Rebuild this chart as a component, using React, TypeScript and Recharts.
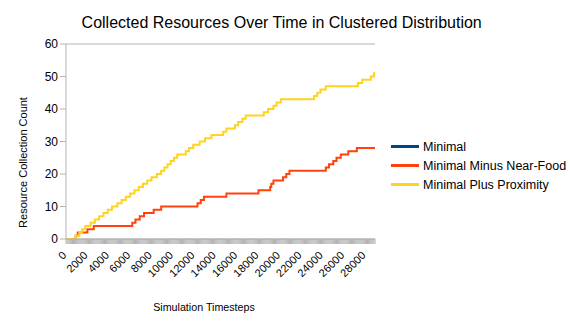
import React from 'react';
import { LineChart, Line, XAxis, YAxis, CartesianGrid } from 'recharts';

const TITLE = 'Collected Resources Over Time in Clustered Distribution';
const X_LABEL = 'Simulation Timesteps';
const Y_LABEL = 'Resource Collection Count';

const SERIES_NAMES = ['Minimal', 'Minimal Minus Near-Food', 'Minimal Plus Proximity'];
const SERIES_COLORS = ['#004586', '#ff420e', '#ffd320'];

const X_TICK_LABELS = [0, 2000, 4000, 6000, 8000, 10000, 12000, 14000, 16000, 18000, 20000, 22000, 24000, 26000, 28000];
const Y_TICKS = [0, 10, 20, 30, 40, 50, 60];
const X_END = 28900;
const X_MINOR_STEP = 100;

// Timesteps at which each series' collected count increases by one
const MINIMAL_STEPS: number[] = [];
const NEAR_FOOD_STEPS = [
  900, 1100, 2000, 2600, 6200, 6500, 6900, 7300, 8200, 8900,
  12300, 12600, 12900, 15000, 18000, 19100, 19200, 19400, 20300, 20600,
  20900, 24300, 24600, 25000, 25300, 25700, 26400, 27200,
];
const PROXIMITY_STEPS = [
  900, 1250, 1500, 1800, 2300, 2700, 3100, 3500, 3900, 4300,
  4800, 5200, 5600, 6000, 6400, 6800, 7200, 7600, 8000, 8500,
  8900, 9200, 9500, 9800, 10100, 10400, 11200, 11500, 11900, 12500,
  13000, 13600, 14700, 15000, 15800, 16100, 16500, 16800, 18500, 18900,
  19400, 19700, 20100, 23200, 23500, 23800, 24300, 27300, 27700, 28500,
  28800,
];

const toSeries = (steps: number[]) =>
  steps.length === 0
    ? []
    : [{ t: 0, v: 0 }, ...steps.map((t, i) => ({ t, v: i + 1 })), { t: X_END, v: steps.length }];

const SERIES_DATA = [toSeries(MINIMAL_STEPS), toSeries(NEAR_FOOD_STEPS), toSeries(PROXIMITY_STEPS)];

const X_MINOR_TICKS = Array.from({ length: Math.floor(X_END / X_MINOR_STEP) + 1 }, (_, i) => i * X_MINOR_STEP);

const FONT = '"Liberation Sans", Arial, sans-serif';
const GRID = '#b3b3b3';

const XTick = (props: any) => {
  const { x, y, payload } = props;
  if (!X_TICK_LABELS.includes(payload.value)) return <g />;
  const ex = x + 1;
  const ey = y + 10;
  return (
    <text
      x={ex}
      y={ey}
      textAnchor="end"
      fontSize={11}
      fontFamily={FONT}
      fill="#000"
      transform={`rotate(-45, ${ex}, ${ey})`}
    >
      {payload.value}
    </text>
  );
};

export default function App() {
  return (
    <div style={{ position: 'absolute', left: 0, top: 0, width: 570, height: 330, background: '#fff', fontFamily: FONT }}>
      <LineChart width={570} height={330} margin={{ top: 44, right: 195, bottom: 31, left: 6 }}>
        <CartesianGrid vertical={false} stroke={GRID} />
        <XAxis
          dataKey="t"
          type="number"
          domain={[0, X_END]}
          ticks={X_MINOR_TICKS}
          interval={0}
          height={60}
          tickSize={5}
          tickMargin={2}
          tickLine={{ stroke: GRID }}
          axisLine={{ stroke: GRID }}
          tick={<XTick />}
          allowDataOverflow
        />
        <YAxis
          yAxisId="left"
          type="number"
          domain={[0, 60]}
          ticks={Y_TICKS}
          width={60}
          tickSize={6}
          tickMargin={2}
          tickLine={{ stroke: GRID }}
          axisLine={{ stroke: GRID }}
          tick={{ fontSize: 12, fill: '#000', fontFamily: FONT }}
          interval={0}
        />
        <YAxis
          yAxisId="right"
          orientation="right"
          type="number"
          domain={[0, 60]}
          width={0}
          tick={false}
          tickLine={false}
          axisLine={{ stroke: GRID }}
        />
        {SERIES_NAMES.map((name, i) => (
          <Line
            key={name}
            yAxisId="left"
            name={name}
            data={SERIES_DATA[i]}
            dataKey="v"
            type="stepAfter"
            stroke={SERIES_COLORS[i]}
            strokeWidth={2}
            dot={false}
            activeDot={false}
            isAnimationActive={false}
          />
        ))}
      </LineChart>
      <div
        style={{
          position: 'absolute',
          left: 391,
          top: 137,
          width: 180,
          fontFamily: FONT,
          fontSize: 12.5,
          color: '#000',
        }}
      >
        {SERIES_NAMES.map((name, i) => (
          <div key={name} style={{ display: 'flex', alignItems: 'center', height: 19, whiteSpace: 'nowrap' }}>
            <div style={{ width: 28, height: 3, background: SERIES_COLORS[i], marginRight: 4 }} />
            <span>{name}</span>
          </div>
        ))}
      </div>
      <svg
        width={570}
        height={330}
        style={{ position: 'absolute', left: 0, top: 0, pointerEvents: 'none' }}
      >
        <text x={281.7} y={28.3} textAnchor="middle" fontSize={16} fontFamily={FONT} fill="#000">
          {TITLE}
        </text>
        <text
          x={26.5}
          y={162.5}
          textAnchor="middle"
          fontSize={11}
          fontFamily={FONT}
          fill="#000"
          transform="rotate(-90, 26.5, 162.5)"
        >
          {Y_LABEL}
        </text>
        <text x={204} y={311.3} textAnchor="middle" fontSize={10.7} fontFamily={FONT} fill="#000">
          {X_LABEL}
        </text>
      </svg>
    </div>
  );
}
